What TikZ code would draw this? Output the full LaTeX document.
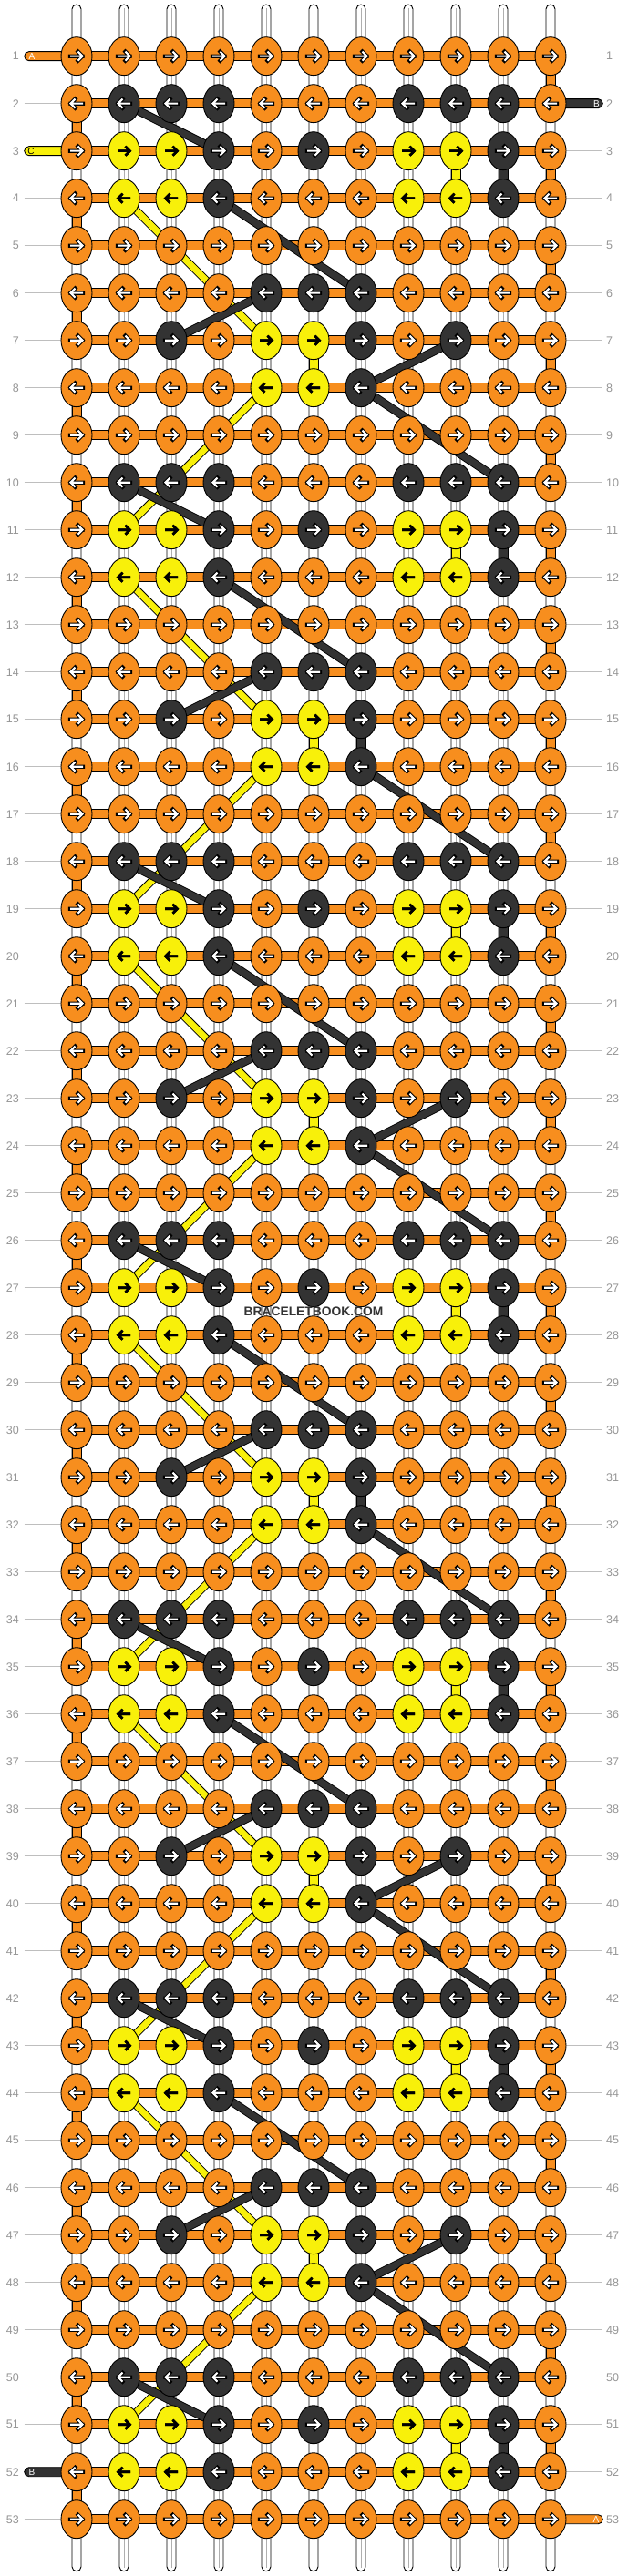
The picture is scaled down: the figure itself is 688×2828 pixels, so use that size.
\documentclass[tikz,border=0pt]{standalone}
\usepackage{fontspec}
\setmainfont{Liberation Sans}
\usetikzlibrary{shapes.geometric}
\definecolor{cO}{RGB}{247,142,30}
\definecolor{cD}{RGB}{51,51,51}
\definecolor{cY}{RGB}{248,240,10}
\definecolor{cLab}{RGB}{150,150,150}
\definecolor{cLine}{RGB}{190,190,190}
\definecolor{cMid}{RGB}{175,175,175}
\begin{document}
\begin{tikzpicture}[x=1pt,y=-1pt,
 knot/.style={ellipse,draw=black,line width=0.9pt,minimum width=34pt,minimum height=42pt,inner sep=0pt},
 knot O/.style={knot,fill=cO},
 knot D/.style={knot,fill=cD},
 knot Y/.style={knot,fill=cY},
 arrb O/.style={draw=black,line width=4.2pt,line cap=rect,line join=miter},
 arrf O/.style={draw=white,line width=2.1pt,line cap=butt,line join=miter},
 arrb D/.style={draw=black,line width=4.2pt,line cap=rect,line join=miter},
 arrf D/.style={draw=white,line width=2.1pt,line cap=butt,line join=miter},
 arrb Y/.style={draw=black,line width=2.6pt,line cap=butt,line join=miter},
 arrf Y/.style={draw=black,line width=2.6pt,line cap=butt,line join=miter},
 hbar/.style={draw=black,line width=0.9pt,fill=cO},
 vseg/.style={draw=black,line width=0.9pt},
 strand/.style={draw=black,line width=0.9pt,fill=white,rounded corners=5pt},
 midline/.style={draw=cMid,line width=0.8pt},
 ylink/.style={draw=black,line width=0.9pt,double=cY,double distance=7pt},
 dlink/.style={draw=black,line width=0.9pt,double=cD,double distance=7.5pt},
 lab/.style={text=cLab,font=\fontsize{12.5}{14}\selectfont,inner sep=0pt},
 gline/.style={draw=cLine,line width=1pt},
 tail/.style={draw=black,line width=0.9pt,rounded corners=5pt},
 tlab/.style={font=\fontsize{10}{11}\selectfont,inner sep=0pt}
]
\useasboundingbox (0,0) rectangle (688,2828);
\fill[white] (0,0) rectangle (688,2828);
% grid coordinates
\foreach \r in {1,...,53} {
  \foreach \c in {1,...,11} {
    \coordinate (p-\r-\c) at ({84+52*(\c-1)},{61.7+52*(\r-1)});
  }
}
% white base strings
\foreach \c in {1,...,11} {
  \coordinate (st-\c) at ({84+52*(\c-1)},5);
  \coordinate (sb-\c) at ({84+52*(\c-1)},2822.7);
  \draw[strand] ([xshift=-5pt]st-\c) rectangle ([xshift=5pt]sb-\c);
  \draw[midline] ([yshift=-4pt]st-\c) -- ([yshift=4pt]sb-\c);
}
% coloured vertical segments
\foreach \r [evaluate=\r as \rn using int(\r+1)] in {1,3,...,51}
  \draw[vseg,fill=cO] ([xshift=-5pt]p-\r-11) rectangle ([xshift=5pt]p-\rn-11);
\foreach \r [evaluate=\r as \rn using int(\r+1)] in {2,4,...,52}
  \draw[vseg,fill=cO] ([xshift=-5pt]p-\r-1) rectangle ([xshift=5pt]p-\rn-1);
\foreach \r [evaluate=\r as \rn using int(\r+1)] in {3,11,19,27,35,43,51} {
  \draw[vseg,fill=cY] ([xshift=-5pt]p-\r-9) rectangle ([xshift=5pt]p-\rn-9);
  \draw[vseg,fill=cD] ([xshift=-5pt]p-\r-10) rectangle ([xshift=5pt]p-\rn-10);
}
\foreach \r [evaluate=\r as \rn using int(\r+1)] in {7,15,23,31,39,47}
  \draw[vseg,fill=cY] ([xshift=-5pt]p-\r-6) rectangle ([xshift=5pt]p-\rn-6);
\foreach \r [evaluate=\r as \rn using int(\r+1)] in {15,31}
  \draw[vseg,fill=cD] ([xshift=-5pt]p-\r-7) rectangle ([xshift=5pt]p-\rn-7);
% tails
\coordinate (tA) at (26.7,61.7);
\coordinate (tC) at (26.7,165.7);
\coordinate (tB) at (661.3,113.7);
\coordinate (tBe) at (26.7,2713.7);
\coordinate (tAe) at (661.3,2765.7);
\draw[tail,fill=cO] ([yshift=-5pt]tA) rectangle ([yshift=5pt]p-1-1);
\draw[tail,fill=cY] ([yshift=-5pt]tC) rectangle ([yshift=5pt]p-3-1);
\draw[tail,fill=cD] ([yshift=-5pt]p-2-11) rectangle ([yshift=5pt]tB);
\draw[tail,fill=cD] ([yshift=-5pt]tBe) rectangle ([yshift=5pt]p-52-1);
\draw[tail,fill=cO] ([yshift=-5pt]p-53-11) rectangle ([yshift=5pt]tAe);
% horizontal working thread
\foreach \r in {1,...,53}
  \draw[hbar] ([yshift=-5pt]p-\r-1) rectangle ([yshift=5pt]p-\r-11);
% label leader lines
\foreach \r in {2,4,5,...,51,53} {
  \coordinate (gl-\r) at (26.7,{61.7+52*(\r-1)});
  \draw[gline] (gl-\r) -- (p-\r-1);
}
\foreach \r in {1,3,4,...,52} {
  \coordinate (gr-\r) at (661.3,{61.7+52*(\r-1)});
  \draw[gline] (p-\r-11) -- (gr-\r);
}
% yellow links
\foreach \k in {0,8,...,40} {
  \pgfmathtruncatemacro\ra{4+\k}\pgfmathtruncatemacro\rb{7+\k}
  \pgfmathtruncatemacro\rc{8+\k}\pgfmathtruncatemacro\rd{11+\k}
  \draw[ylink] (p-\ra-2) -- (p-\rb-5);
  \draw[ylink] (p-\rc-5) -- (p-\rd-2);
}
% dark links
\foreach \k in {0,8,...,48} {
  \pgfmathtruncatemacro\ra{2+\k}\pgfmathtruncatemacro\rb{3+\k}
  \draw[dlink] (p-\ra-2) -- (p-\rb-4);
}
\foreach \k in {0,8,...,40} {
  \pgfmathtruncatemacro\ra{4+\k}\pgfmathtruncatemacro\rb{6+\k}
  \pgfmathtruncatemacro\rc{7+\k}\pgfmathtruncatemacro\rd{8+\k}
  \pgfmathtruncatemacro\re{10+\k}
  \draw[dlink] (p-\ra-4) -- (p-\rb-7);
  \draw[dlink] (p-\rb-5) -- (p-\rc-3);
  \draw[dlink] (p-\rd-7) -- (p-\re-10);
}
\foreach \k in {0,16,32,40} {
  \pgfmathtruncatemacro\ra{7+\k}\pgfmathtruncatemacro\rb{8+\k}
  \draw[dlink] (p-\rb-7) -- (p-\ra-9);
}
% knots
\foreach \r in {1,...,53} {
  \pgfmathtruncatemacro\m{mod(\r,8)}
  \pgfmathtruncatemacro\d{ifthenelse(mod(\r,2)==1,1,-1)}
  \pgfmathsetmacro\Y{61.7+52*(\r-1)}
  \ifcase\m\relax
    \def\currow{O,O,O,O,Y,Y,D,O,O,O,O}%
  \or \def\currow{O,O,O,O,O,O,O,O,O,O,O}%
  \or \def\currow{O,D,D,D,O,O,O,D,D,D,O}%
  \or \def\currow{O,Y,Y,D,O,D,O,Y,Y,D,O}%
  \or \def\currow{O,Y,Y,D,O,O,O,Y,Y,D,O}%
  \or \def\currow{O,O,O,O,O,O,O,O,O,O,O}%
  \or \def\currow{O,O,O,O,D,D,D,O,O,O,O}%
  \or \def\currow{O,O,D,O,Y,Y,D,O,D,O,O}%
  \fi
  \ifnum\r=15 \def\currow{O,O,D,O,Y,Y,D,O,O,O,O}\fi
  \ifnum\r=31 \def\currow{O,O,D,O,Y,Y,D,O,O,O,O}\fi
  \foreach \k [count=\c] in \currow {
    \pgfmathsetmacro\X{84+52*(\c-1)}
    \node[knot \k] (k-\r-\c) at (p-\r-\c) {};
    \draw[arrb \k] ({\X-7*\d},\Y) -- ({\X+6.5*\d},\Y) ({\X+1.5*\d},{\Y-5}) -- ({\X+6.5*\d},\Y) -- ({\X+1.5*\d},{\Y+5});
    \draw[arrf \k] ({\X-7*\d},\Y) -- ({\X+6.5*\d},\Y) ({\X+1.5*\d},{\Y-5}) -- ({\X+6.5*\d},\Y) -- ({\X+1.5*\d},{\Y+5});
  }
}
% row numbers
\foreach \r in {1,...,53} {
  \node[lab,anchor=east] (ll-\r) at (21,{61.7+52*(\r-1)}) {\r};
  \node[lab,anchor=west] (rl-\r) at (665,{61.7+52*(\r-1)}) {\r};
}
% tail letters
\node[tlab,text=white] (lA) at (35,61.7) {A};
\node[tlab,text=black] (lC) at (34,165.7) {C};
\node[tlab,text=white] (lB) at (654.5,113.7) {B};
\node[tlab,text=white] (lBe) at (35,2713.7) {B};
\node[tlab,text=white] (lAe) at (654,2765.7) {A};
% watermark
\node[font=\bfseries\fontsize{13.8}{15}\selectfont,text=cD,inner sep=0pt] (wm) at (344,1440) {BRACELETBOOK.COM};
\end{tikzpicture}
\end{document}
